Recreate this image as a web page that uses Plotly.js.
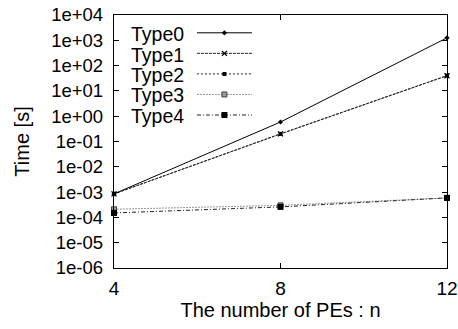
<!DOCTYPE html>
<html><head><meta charset="utf-8">
<script src="https://cdn.plot.ly/plotly-3.0.1.min.js"></script>
<style>html,body{margin:0;padding:0;background:#fff}#c{width:458px;height:329px}</style>
</head><body><div id="c"></div>
<script>
const nPEs = [4, 8, 12];
const type0 = [8.5e-4, 0.59, 1250];
const type1 = [8.5e-4, 0.2, 40];
const type2 = [8.5e-4, 0.2, 40];
const type3 = [2.1e-4, 3.0e-4, 5.9e-4];
const type4 = [1.5e-4, 2.6e-4, 5.9e-4];
const names = ['Type0','Type1','Type2','Type3','Type4'];
const yTickVals = [1e4,1e3,1e2,1e1,1,1e-1,1e-2,1e-3,1e-4,1e-5,1e-6];
const yTickText = ['1e+04','1e+03','1e+02','1e+01','1e+00','1e-01','1e-02','1e-03','1e-04','1e-05','1e-06'];
const xTickVals = [4, 8, 12];

const series = [type0, type1, type2, type3, type4];
const styles = [
  {line:{color:'#000',width:1,dash:'solid'}, marker:{symbol:'diamond',size:4,color:'#000'}},
  {line:{color:'#222',width:1,dash:'3px,1px'}, marker:{symbol:'x-thin-open',size:5,color:'#000',line:{width:1.3,color:'#000'}}},
  {line:{color:'#222',width:1,dash:'2px,2px'}, marker:{symbol:'square',size:4,color:'#000'}},
  {line:{color:'#999',width:1,dash:'2px,1px'}, marker:{symbol:'square',size:5,color:'#999',line:{color:'#444',width:1}}},
  {line:{color:'#222',width:1,dash:'4px,2px,1px,2px'}, marker:{symbol:'square',size:6,color:'#000'}}
];
const traces = series.map((s,i)=>Object.assign({
  x: nPEs, y: s, name: names[i], type:'scatter', mode:'lines+markers', cliponaxis:false
}, styles[i]));

const fam = 'Liberation Sans, Arial, sans-serif';
// plot area: top 15px, height 253px; legend rows start 34px from top, 20.5px apart
const plotTop = 15, plotH = 253, rowTop = 34, rowGap = 20.5;
const legendText = names.map((n,i)=>({
  text:n, xref:'paper', yref:'paper', x:0.215, xanchor:'right',
  y: 1 - (rowTop + rowGap*i - plotTop)/plotH, yanchor:'middle', showarrow:false,
  font:{family:fam,size:19.5,color:'#000'}
}));

const layout = {
  width:458, height:329,
  margin:{l:114, r:11, t:15, b:61},
  paper_bgcolor:'#fff', plot_bgcolor:'#fff',
  font: {family:fam, size:19, color:'#000'},
  showlegend:true,
  legend:{x:0.234, y:0.99, xanchor:'left', yanchor:'top', bgcolor:'rgba(0,0,0,0)',
          font:{family:fam,size:13.5,color:'rgba(0,0,0,0)'}, tracegroupgap:0, itemwidth:55},
  annotations: legendText,
  xaxis:{range:[4,12], tickvals:xTickVals, ticks:'inside', ticklen:5, tickcolor:'#000',
         showline:true, linecolor:'#000', linewidth:1.2, mirror:'allticks', showgrid:false, zeroline:false,
         ticklabelstandoff:3,
         tickfont:{family:fam,size:19,color:'#000'},
         title:{text:'The number of PEs : n', font:{family:fam,size:20,color:'#000'}, standoff:0}},
  yaxis:{type:'log', range:[-6,4], tickvals:yTickVals, ticktext:yTickText, ticks:'inside', ticklen:5, tickcolor:'#000',
         showline:true, linecolor:'#000', linewidth:1.2, mirror:'allticks', showgrid:false, zeroline:false,
         ticklabelstandoff:6,
         tickfont:{family:fam,size:18.5,color:'#000'},
         title:{text:'Time [s]', font:{family:fam,size:20,color:'#000'}, standoff:16}}
};
Plotly.newPlot('c', traces, layout, {displayModeBar:false, staticPlot:true});
</script></body></html>
